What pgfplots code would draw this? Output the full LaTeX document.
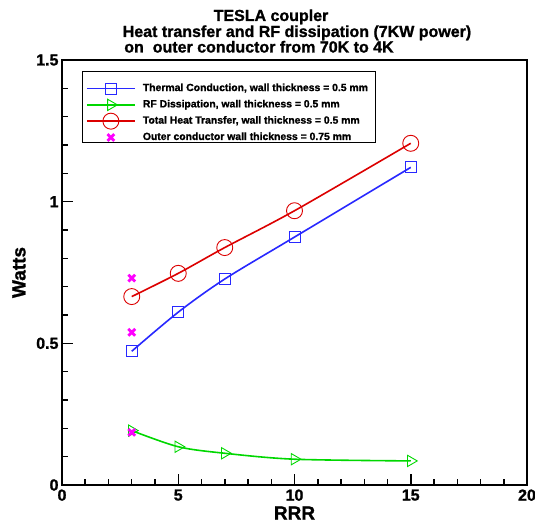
\documentclass[border=0pt]{standalone}
\usepackage{fontspec}
\setmainfont{Liberation Sans}[BoldFeatures={FakeBold=1.2}]
\usepackage{pgfplots}
\pgfplotsset{compat=1.18}
\definecolor{cblue}{RGB}{40,40,255}
\definecolor{cgreen}{RGB}{0,215,0}
\definecolor{cred}{RGB}{220,0,0}
\definecolor{cmag}{RGB}{255,0,255}
\begin{document}
\begin{tikzpicture}
\path[use as bounding box] (-62bp,-38bp) rectangle (473bp,485bp);
\begin{axis}[
  scale only axis, width=465bp, height=425bp,
  xmin=0, xmax=20, ymin=0, ymax=1.5,
  xtick={0,5,10,15,20}, ytick={0,0.5,1,1.5},
  minor x tick num=4, minor y tick num=4,
  tick align=inside, xtick pos=bottom, ytick pos=left,
  major tick length=11bp, minor tick length=6bp,
  every tick/.style={black, line width=1.5bp},
  axis line style={line width=2.2bp},
  /pgf/number format/assume math mode=true,
  tick label style={font=\fontsize{16bp}{16bp}\selectfont\bfseries},
  xticklabel style={yshift=-1bp},
  xlabel={RRR}, ylabel={Watts},
  xlabel style={at={(axis description cs:0.5,-0.0659)}, anchor=center, font=\fontsize{19bp}{19bp}\selectfont\bfseries},
  ylabel style={at={(axis description cs:-0.0925,0.5)}, anchor=center, font=\fontsize{19bp}{19bp}\selectfont\bfseries},
  legend style={at={(axis description cs:0.0531,0.945)}, anchor=north west, draw=none, fill=none,
    font=\fontsize{10.4bp}{11bp}\selectfont\bfseries, inner sep=0bp, row sep=6.3bp, column sep=8bp,
    nodes={inner sep=0bp, text height=7.5bp, text depth=2.5bp, anchor=west}},
  legend cell align=left,
  legend image code/.code={%
    \begin{pgfinterruptboundingbox}
    \draw[mark repeat=2,mark phase=2] plot coordinates {(0bp,0bp)(24bp,0bp)(48bp,0bp)};
    \end{pgfinterruptboundingbox}
    \path[draw=none, fill=none] (0bp,-4bp) rectangle (48bp,4bp);},
]
\draw[black, fill=white, line width=0.8bp] (rel axis cs:0.0445,0.974) rectangle (rel axis cs:0.673,0.8054);
\addplot[cblue, line width=1.6bp, smooth, mark=square, mark size=5.5bp, mark options={line width=0.9bp, solid}]
  coordinates {(3,0.472)(5,0.61)(7,0.727)(10,0.875)(15,1.121)};
\addlegendentry{Thermal Conduction, wall thickness = 0.5 mm}
\addplot[cgreen, line width=1.6bp, smooth, mark=triangle, mark size=6.5bp, mark options={rotate=-90, line width=0.9bp, solid}]
  coordinates {(3,0.192)(5,0.135)(7,0.112)(10,0.091)(15,0.085)};
\addlegendentry{RF Dissipation, wall thickness = 0.5 mm}
\addplot[cred, line width=1.6bp, smooth, mark=o, mark size=8bp, mark options={line width=0.9bp, solid}]
  coordinates {(3,0.665)(5,0.747)(7,0.838)(10,0.968)(15,1.206)};
\addlegendentry{Total Heat Transfer, wall thickness = 0.5 mm}
\addplot[cmag, only marks, mark=x, mark size=4.8bp, mark options={line width=2.8bp}]
  coordinates {(3,0.73)(3,0.539)(3,0.186)};
\addlegendentry{Outer conductor wall thickness = 0.75 mm}
\end{axis}
\node[anchor=base, font=\fontsize{16bp}{16bp}\selectfont\bfseries] at (209bp,464bp) {TESLA coupler};
\node[anchor=base, font=\fontsize{16bp}{16bp}\selectfont\bfseries] at (235bp,448bp) {Heat transfer and RF dissipation (7KW power)};
\node[anchor=base, font=\fontsize{16bp}{16bp}\selectfont\bfseries] at (197bp,432.5bp) {on\ \ outer conductor from 70K to 4K};
\end{tikzpicture}
\end{document}
